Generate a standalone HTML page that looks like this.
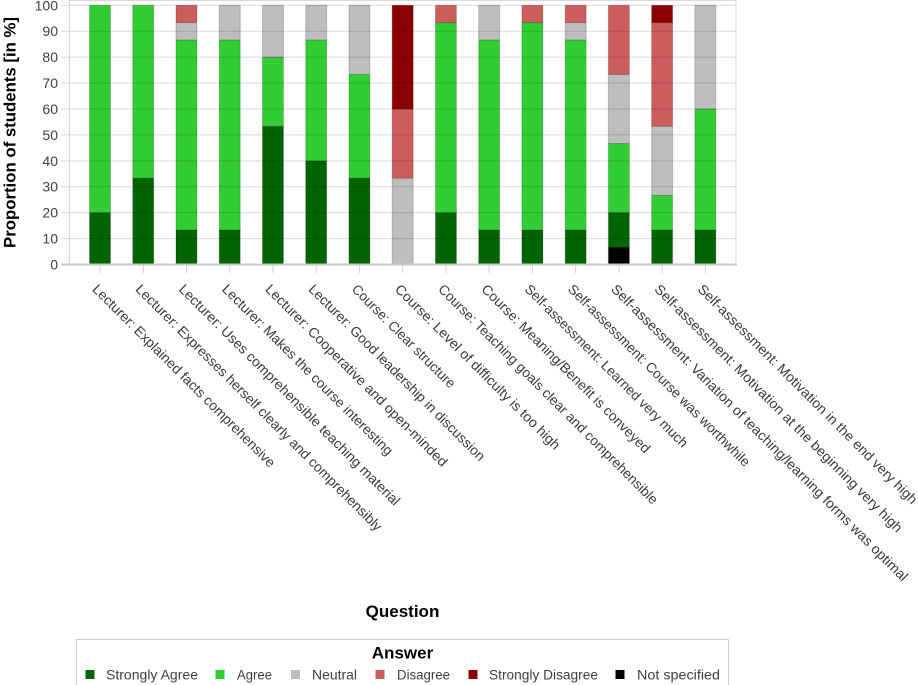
<!DOCTYPE html>
<html>
<head>
<meta charset="utf-8">
<style>
html,body{margin:0;padding:0;background:#fff;}
svg{display:block;}
text{font-family:"Liberation Sans",Arial,sans-serif;}
</style>
</head>
<body>
<svg width="918" height="685" viewBox="0 0 918 685" xmlns="http://www.w3.org/2000/svg">
<rect x="0" y="0" width="918" height="685" fill="#fff"/>
<!-- plot frame -->
<line x1="69" y1="0.5" x2="736" y2="0.5" stroke="#d9d9d9" stroke-width="1"/>
<line x1="736" y1="0" x2="736" y2="265" stroke="#d9d9d9" stroke-width="1"/>

<!-- bars -->
<g stroke="rgba(0,0,0,0.18)" stroke-width="1">
<!-- 1 -->
<rect x="89.5" y="212.66" width="21" height="51.84" fill="#006400"/>
<rect x="89.5" y="5.3" width="21" height="207.36" fill="#32CD32"/>
<!-- 2 -->
<rect x="132.74" y="178.1" width="21" height="86.4" fill="#006400"/>
<rect x="132.74" y="5.3" width="21" height="172.8" fill="#32CD32"/>
<!-- 3 -->
<rect x="175.98" y="229.94" width="21" height="34.56" fill="#006400"/>
<rect x="175.98" y="39.86" width="21" height="190.08" fill="#32CD32"/>
<rect x="175.98" y="22.58" width="21" height="17.28" fill="#BEBEBE"/>
<rect x="175.98" y="5.3" width="21" height="17.28" fill="#CD5C5C"/>
<!-- 4 -->
<rect x="219.22" y="229.94" width="21" height="34.56" fill="#006400"/>
<rect x="219.22" y="39.86" width="21" height="190.08" fill="#32CD32"/>
<rect x="219.22" y="5.3" width="21" height="34.56" fill="#BEBEBE"/>
<!-- 5 -->
<rect x="262.46" y="126.26" width="21" height="138.24" fill="#006400"/>
<rect x="262.46" y="57.14" width="21" height="69.12" fill="#32CD32"/>
<rect x="262.46" y="5.3" width="21" height="51.84" fill="#BEBEBE"/>
<!-- 6 -->
<rect x="305.7" y="160.82" width="21" height="103.68" fill="#006400"/>
<rect x="305.7" y="39.86" width="21" height="120.96" fill="#32CD32"/>
<rect x="305.7" y="5.3" width="21" height="34.56" fill="#BEBEBE"/>
<!-- 7 -->
<rect x="348.94" y="178.1" width="21" height="86.4" fill="#006400"/>
<rect x="348.94" y="74.42" width="21" height="103.68" fill="#32CD32"/>
<rect x="348.94" y="5.3" width="21" height="69.12" fill="#BEBEBE"/>
<!-- 8 -->
<rect x="392.18" y="178.1" width="21" height="86.4" fill="#BEBEBE"/>
<rect x="392.18" y="108.98" width="21" height="69.12" fill="#CD5C5C"/>
<rect x="392.18" y="5.3" width="21" height="103.68" fill="#8B0000"/>
<!-- 9 -->
<rect x="435.42" y="212.66" width="21" height="51.84" fill="#006400"/>
<rect x="435.42" y="22.58" width="21" height="190.08" fill="#32CD32"/>
<rect x="435.42" y="5.3" width="21" height="17.28" fill="#CD5C5C"/>
<!-- 10 -->
<rect x="478.66" y="229.94" width="21" height="34.56" fill="#006400"/>
<rect x="478.66" y="39.86" width="21" height="190.08" fill="#32CD32"/>
<rect x="478.66" y="5.3" width="21" height="34.56" fill="#BEBEBE"/>
<!-- 11 -->
<rect x="521.9" y="229.94" width="21" height="34.56" fill="#006400"/>
<rect x="521.9" y="22.58" width="21" height="207.36" fill="#32CD32"/>
<rect x="521.9" y="5.3" width="21" height="17.28" fill="#CD5C5C"/>
<!-- 12 -->
<rect x="565.14" y="229.94" width="21" height="34.56" fill="#006400"/>
<rect x="565.14" y="39.86" width="21" height="190.08" fill="#32CD32"/>
<rect x="565.14" y="22.58" width="21" height="17.28" fill="#BEBEBE"/>
<rect x="565.14" y="5.3" width="21" height="17.28" fill="#CD5C5C"/>
<!-- 13 -->
<rect x="608.38" y="247.22" width="21" height="17.28" fill="#000000"/>
<rect x="608.38" y="212.66" width="21" height="34.56" fill="#006400"/>
<rect x="608.38" y="143.54" width="21" height="69.12" fill="#32CD32"/>
<rect x="608.38" y="74.42" width="21" height="69.12" fill="#BEBEBE"/>
<rect x="608.38" y="5.3" width="21" height="69.12" fill="#CD5C5C"/>
<!-- 14 -->
<rect x="651.62" y="229.94" width="21" height="34.56" fill="#006400"/>
<rect x="651.62" y="195.38" width="21" height="34.56" fill="#32CD32"/>
<rect x="651.62" y="126.26" width="21" height="69.12" fill="#BEBEBE"/>
<rect x="651.62" y="22.58" width="21" height="103.68" fill="#CD5C5C"/>
<rect x="651.62" y="5.3" width="21" height="17.28" fill="#8B0000"/>
<!-- 15 -->
<rect x="694.86" y="229.94" width="21" height="34.56" fill="#006400"/>
<rect x="694.86" y="108.98" width="21" height="120.96" fill="#32CD32"/>
<rect x="694.86" y="5.3" width="21" height="103.68" fill="#BEBEBE"/>
</g>

<!-- gridlines (over bars) -->
<g stroke="rgba(0,0,0,0.14)" stroke-width="1">
<line x1="61" y1="238.58" x2="736" y2="238.58"/>
<line x1="61" y1="212.66" x2="736" y2="212.66"/>
<line x1="61" y1="186.74" x2="736" y2="186.74"/>
<line x1="61" y1="160.82" x2="736" y2="160.82"/>
<line x1="61" y1="134.9" x2="736" y2="134.9"/>
<line x1="61" y1="108.98" x2="736" y2="108.98"/>
<line x1="61" y1="83.06" x2="736" y2="83.06"/>
<line x1="61" y1="57.14" x2="736" y2="57.14"/>
<line x1="61" y1="31.22" x2="736" y2="31.22"/>
<line x1="61" y1="5.3" x2="736" y2="5.3"/>
</g>
<!-- axes -->
<line x1="69.3" y1="0" x2="69.3" y2="265" stroke="#cfcfcf" stroke-width="1"/>
<line x1="61" y1="264.5" x2="737" y2="264.5" stroke="#c8c8c8" stroke-width="2"/>
<!-- x ticks -->
<g stroke="#cccccc" stroke-width="1">
<line x1="100" y1="265" x2="100" y2="273"/>
<line x1="143.24" y1="265" x2="143.24" y2="273"/>
<line x1="186.48" y1="265" x2="186.48" y2="273"/>
<line x1="229.72" y1="265" x2="229.72" y2="273"/>
<line x1="272.96" y1="265" x2="272.96" y2="273"/>
<line x1="316.2" y1="265" x2="316.2" y2="273"/>
<line x1="359.44" y1="265" x2="359.44" y2="273"/>
<line x1="402.68" y1="265" x2="402.68" y2="273"/>
<line x1="445.92" y1="265" x2="445.92" y2="273"/>
<line x1="489.16" y1="265" x2="489.16" y2="273"/>
<line x1="532.4" y1="265" x2="532.4" y2="273"/>
<line x1="575.64" y1="265" x2="575.64" y2="273"/>
<line x1="618.88" y1="265" x2="618.88" y2="273"/>
<line x1="662.12" y1="265" x2="662.12" y2="273"/>
<line x1="705.36" y1="265" x2="705.36" y2="273"/>
</g>

<!-- y tick labels -->
<g font-size="14" fill="#404040" text-anchor="end">
<text x="58" y="269.5">0</text>
<text x="58" y="243.6">10</text>
<text x="58" y="217.7">20</text>
<text x="58" y="191.7">30</text>
<text x="58" y="165.8">40</text>
<text x="58" y="139.9">50</text>
<text x="58" y="114">60</text>
<text x="58" y="88.1">70</text>
<text x="58" y="62.1">80</text>
<text x="58" y="36.2">90</text>
<text x="58" y="10.3">100</text>
</g>

<!-- y axis title -->
<text transform="translate(15.5,132.5) rotate(-90)" text-anchor="middle" font-size="16.5" font-weight="bold" fill="#000" textLength="231" lengthAdjust="spacingAndGlyphs">Proportion of students [in %]</text>

<!-- x labels -->
<g font-size="13.8" fill="#3a3a3a">
<text transform="translate(91.5,290) rotate(45)" textLength="252" lengthAdjust="spacingAndGlyphs">Lecturer: Explained facts comprehensive</text>
<text transform="translate(134.74,290) rotate(45)" textLength="342" lengthAdjust="spacingAndGlyphs">Lecturer: Expresses herself clearly and comprehensibly</text>
<text transform="translate(177.98,290) rotate(45)" textLength="306" lengthAdjust="spacingAndGlyphs">Lecturer: Uses comprehensible teaching material</text>
<text transform="translate(221.22,290) rotate(45)" textLength="235" lengthAdjust="spacingAndGlyphs">Lecturer: Makes the course interesting</text>
<text transform="translate(264.46,290) rotate(45)" textLength="251" lengthAdjust="spacingAndGlyphs">Lecturer: Cooperative and open-minded</text>
<text transform="translate(307.7,290) rotate(45)" textLength="243" lengthAdjust="spacingAndGlyphs">Lecturer: Good leadership in discussion</text>
<text transform="translate(350.94,290) rotate(45)" textLength="140" lengthAdjust="spacingAndGlyphs">Course: Clear structure</text>
<text transform="translate(394.18,290) rotate(45)" textLength="227" lengthAdjust="spacingAndGlyphs">Course: Level of difficulty is too high</text>
<text transform="translate(437.42,290) rotate(45)" textLength="304" lengthAdjust="spacingAndGlyphs">Course: Teaching goals clear and comprehensible</text>
<text transform="translate(480.66,290) rotate(45)" textLength="232" lengthAdjust="spacingAndGlyphs">Course: Meaning/Benefit is conveyed</text>
<text transform="translate(523.9,290) rotate(45)" textLength="224" lengthAdjust="spacingAndGlyphs">Self-assessment: Learned very much</text>
<text transform="translate(567.14,290) rotate(45)" textLength="251" lengthAdjust="spacingAndGlyphs">Self-assessment: Course was worthwhile</text>
<text transform="translate(610.38,290) rotate(45)" textLength="413" lengthAdjust="spacingAndGlyphs">Self-assessment: Variation of teaching/learning forms was optimal</text>
<text transform="translate(653.62,290) rotate(45)" textLength="344" lengthAdjust="spacingAndGlyphs">Self-assessment: Motivation at the beginning very high</text>
<text transform="translate(696.86,290) rotate(45)" textLength="304" lengthAdjust="spacingAndGlyphs">Self-assessment: Motivation in the end very high</text>
</g>

<!-- x axis title -->
<text x="402.5" y="617" text-anchor="middle" font-size="17" font-weight="bold" fill="#000">Question</text>

<!-- legend -->
<rect x="76.5" y="639.5" width="652" height="60" fill="none" stroke="#cccccc" stroke-width="1"/>
<text x="402.5" y="658.5" text-anchor="middle" font-size="17" font-weight="bold" fill="#000">Answer</text>
<g font-size="14" fill="#404040">
<rect x="85.5" y="670" width="9" height="9" fill="#006400"/>
<text x="106" y="679.5" textLength="92" lengthAdjust="spacingAndGlyphs">Strongly Agree</text>
<rect x="215.5" y="670" width="9" height="9" fill="#32CD32"/>
<text x="237" y="679.5" textLength="35" lengthAdjust="spacingAndGlyphs">Agree</text>
<rect x="291" y="670" width="9" height="9" fill="#BEBEBE"/>
<text x="312" y="679.5" textLength="45" lengthAdjust="spacingAndGlyphs">Neutral</text>
<rect x="375.5" y="670" width="9" height="9" fill="#CD5C5C"/>
<text x="397" y="679.5" textLength="53" lengthAdjust="spacingAndGlyphs">Disagree</text>
<rect x="468.5" y="670" width="9" height="9" fill="#8B0000"/>
<text x="489" y="679.5" textLength="109" lengthAdjust="spacingAndGlyphs">Strongly Disagree</text>
<rect x="615.5" y="670" width="9" height="9" fill="#000000"/>
<text x="637" y="679.5" textLength="83" lengthAdjust="spacingAndGlyphs">Not specified</text>
</g>
</svg>
</body>
</html>
